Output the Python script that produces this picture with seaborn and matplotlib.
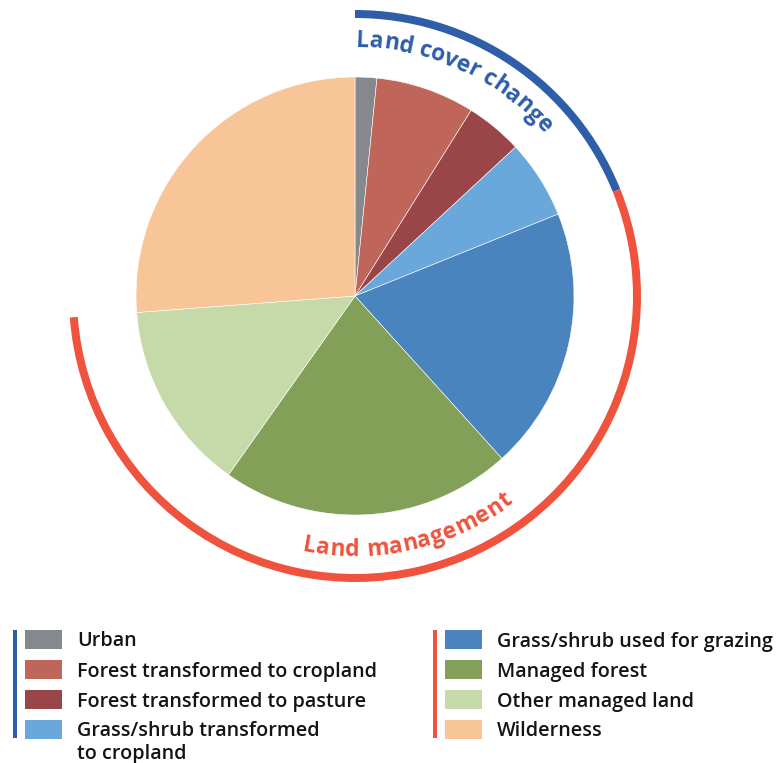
import numpy as np
import matplotlib
matplotlib.use("Agg")
import matplotlib.pyplot as plt
from matplotlib.patches import Arc, Rectangle
from matplotlib.font_manager import FontProperties
import seaborn as sns

# data (share of land, %), clockwise from 12 o'clock
categories = ["Urban", "Forest transformed to cropland", "Forest transformed to pasture",
              "Grass/shrub transformed\nto cropland", "Grass/shrub used for grazing",
              "Managed forest", "Other managed land", "Wilderness"]
shares = [1.6, 7.3, 4.2, 5.8, 19.4, 21.5, 14.0, 26.2]
colors = ["#85888c", "#c0655a", "#9a4648", "#6aa8dc", "#4a84bf", "#82a057", "#c6d9a8", "#f8c598"]

groups = ["Land cover change", "Land management"]
group_members = [4, 4]
group_arc_slices = [4, 3]   # wilderness is not under the red arc
group_colors = ["#2f5ea9", "#f0533d"]

sns.set_theme(style="white")
plt.rcParams["font.family"] = ["Open Sans", "DejaVu Sans"]

W, H = 782, 763
fig = plt.figure(figsize=(W / 100, H / 100), dpi=100)
ax = fig.add_axes([0, 0, 1, 1])

cx, cy, R = 355, H - 296, 219
ax.pie(shares, colors=colors, startangle=90, counterclock=False, center=(cx, cy), radius=R,
       wedgeprops=dict(edgecolor="white", linewidth=0.4))
ax.set_xlim(0, W)
ax.set_ylim(0, H)
ax.set_aspect("equal")
ax.axis("off")

# group arcs
cum = np.cumsum([0] + shares) / sum(shares) * 360
r_arc = 282
start = 0
for g in range(2):
    a0 = cum[start]
    a1 = cum[start + group_arc_slices[g]]
    arc = Arc((cx, cy), 2 * r_arc, 2 * r_arc, theta1=90 - a1, theta2=90 - a0,
              color=group_colors[g], lw=8 * 0.72)
    arc.set_capstyle("butt")
    ax.add_patch(arc)
    start += group_members[g]

# curved labels
renderer = fig.canvas.get_renderer()
fp = FontProperties(family=["Open Sans", "DejaVu Sans"], weight="bold", size=16.5)


def text_w(s):
    w, h, d = renderer.get_text_width_height_descent(s, fp, ismath=False)
    return w


def curved(s, r, theta0, color, outward=True, track=0.6):
    for i, ch in enumerate(s):
        if ch == " ":
            continue
        pos = text_w(s[:i + 1]) - text_w(ch) / 2 + i * track
        if outward:
            th = np.radians(theta0) + pos / r
            rot = -np.degrees(th)
        else:
            th = np.radians(theta0) - pos / r
            rot = 180 - np.degrees(th)
        x = cx + r * np.sin(th)
        y = cy + r * np.cos(th)
        ax.text(x, y, ch, fontproperties=fp, color=color, rotation=rot,
                rotation_mode="anchor", ha="center", va="baseline")


curved(groups[0], 249, 0.3, group_colors[0], outward=True, track=0.0)
curved(groups[1], 260, 191.8, group_colors[1], outward=False, track=0.6)

# legend, two columns with group bars
lfp = FontProperties(family=["Open Sans", "DejaVu Sans"], weight="semibold", size=14.2)
col_x = [25, 445]
row_y0, row_dy = 639, 30
for g in range(2):
    x0 = col_x[g]
    ax.add_patch(Rectangle((x0 - 12, H - 738), 4, 108, color=group_colors[g], lw=0))
    for k in range(group_members[g]):
        idx = g * 4 + k
        yc = row_y0 + k * row_dy
        ax.add_patch(Rectangle((x0, H - yc - 9.5), 37, 19, color=colors[idx], lw=0))
        for j, line in enumerate(categories[idx].split("\n")):
            ax.text(x0 + 52, H - yc - j * 23, line, fontproperties=lfp, color="#141414",
                    ha="left", va="center_baseline")

fig.savefig("out.png", dpi=100)
